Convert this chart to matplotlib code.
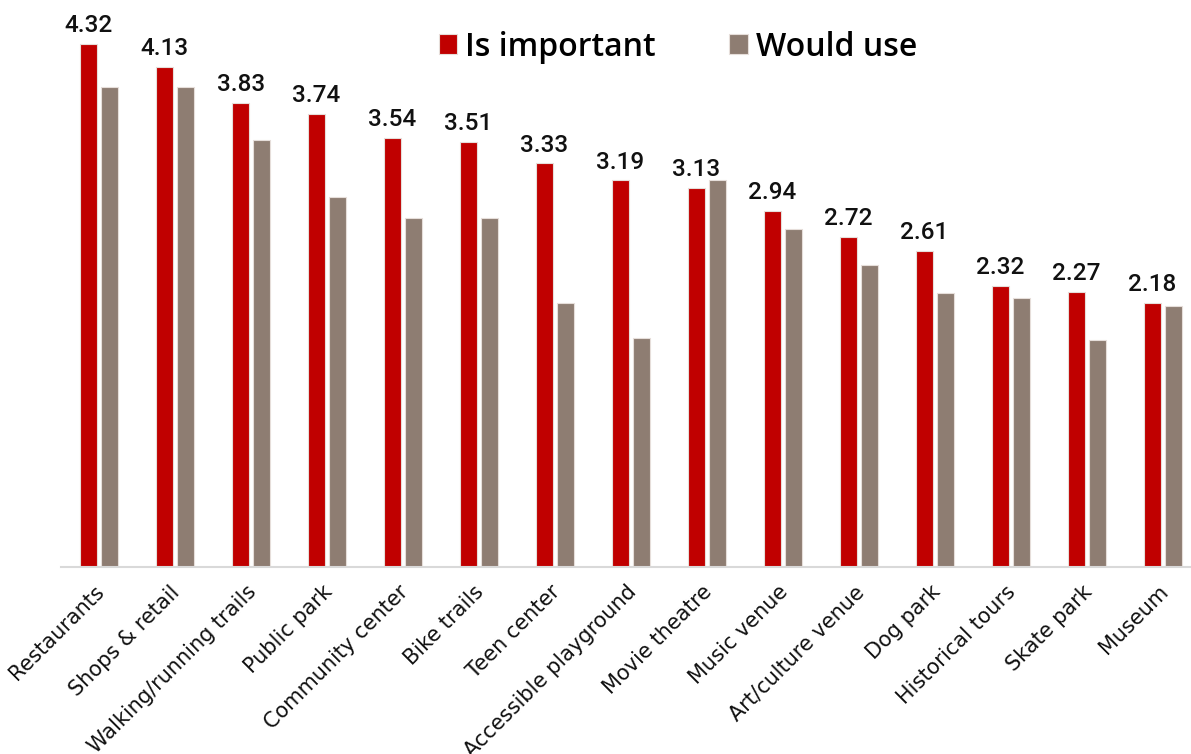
import matplotlib
matplotlib.use("Agg")
import matplotlib.pyplot as plt
import matplotlib.transforms as mtransforms
import numpy as np

categories = [
    "Restaurants", "Shops & retail", "Walking/running trails", "Public park",
    "Community center", "Bike trails", "Teen center", "Accessible playground",
    "Movie theatre", "Music venue", "Art/culture venue", "Dog park",
    "Historical tours", "Skate park", "Museum",
]
is_important = [4.32, 4.13, 3.83, 3.74, 3.54, 3.51, 3.33, 3.19, 3.13, 2.94, 2.72, 2.61, 2.32, 2.27, 2.18]
would_use = [3.96, 3.96, 3.52, 3.05, 2.88, 2.88, 2.18, 1.89, 3.19, 2.79, 2.49, 2.26, 2.22, 1.87, 2.15]

RED = "#C00000"
GRAY = "#8E7D72"
EDGE = "#E6DEDA"

W, H = 1191, 754
fig = plt.figure(figsize=(W / 100, H / 100), dpi=100)
ax = fig.add_axes([61 / W, (H - 566.5) / H, (W - 61) / W, 566.5 / H])

x = np.arange(len(categories))
bw = 0.23
off = 0.137
ax.bar(x - off, is_important, width=bw, color=RED, edgecolor=EDGE, linewidth=0.8,
       label="Is important", zorder=2)
ax.bar(x + off, would_use, width=bw, color=GRAY, edgecolor=EDGE, linewidth=0.8,
       label="Would use", zorder=2)

for xi, v in zip(x, is_important):
    ax.annotate(f"{v:.2f}", (xi - off, v), xytext=(0, 8.5), textcoords="offset points",
                ha="center", va="baseline", fontsize=17.5, fontfamily="Roboto",
                fontweight="medium", color="#111111")

ax.set_xlim(-0.5, 14.37)
ax.set_ylim(0, 4.68)
ax.set_yticks([])
for s in ["top", "right", "left"]:
    ax.spines[s].set_visible(False)
ax.spines["bottom"].set_color("#D9D9D9")
ax.spines["bottom"].set_linewidth(1.5)

ax.set_xticks(x)
ax.set_xticklabels(categories, rotation=45, ha="right", va="top", fontsize=15,
                   fontfamily="DejaVu Sans", color="#111111")
ax.tick_params(axis="x", length=0, pad=11)
# nudge the slanted labels a little to the right
shift = mtransforms.ScaledTranslation(9 / 100, 0, fig.dpi_scale_trans)
for lbl in ax.get_xticklabels():
    lbl.set_transform(lbl.get_transform() + shift)

fig.legend(loc="center", bbox_to_anchor=(678 / W, 1 - 47 / H), ncol=2, frameon=False,
           prop={"family": "Open Sans", "size": 23, "weight": "semibold"},
           handlelength=0.58, handleheight=0.58, handletextpad=0.25,
           columnspacing=2.3)

fig.savefig("out.png", dpi=100)
plt.close(fig)
